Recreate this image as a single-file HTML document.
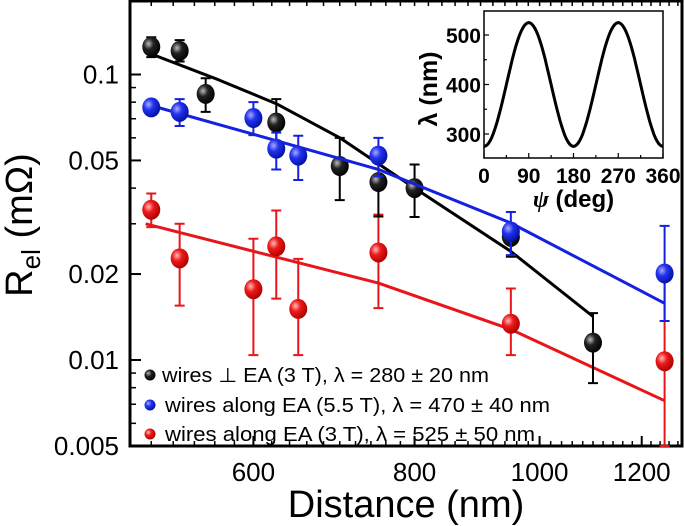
<!DOCTYPE html>
<html><head><meta charset="utf-8"><style>
body{margin:0;background:#fff}
svg{display:block;font-family:"Liberation Sans",sans-serif}
</style></head><body>
<svg id="c" width="685" height="526" viewBox="0 0 685 526">
<defs>
<radialGradient id="gk" cx="0.35" cy="0.35" r="0.7"><stop offset="0" stop-color="#bbb"/><stop offset="0.4" stop-color="#222"/><stop offset="1" stop-color="#000"/></radialGradient>
<radialGradient id="gb" cx="0.35" cy="0.35" r="0.7"><stop offset="0" stop-color="#aaf"/><stop offset="0.4" stop-color="#2233ee"/><stop offset="1" stop-color="#0010a0"/></radialGradient>
<radialGradient id="gr" cx="0.35" cy="0.35" r="0.7"><stop offset="0" stop-color="#fbb"/><stop offset="0.4" stop-color="#ee1a1a"/><stop offset="1" stop-color="#a00"/></radialGradient>
</defs>
<g id="plot"></g>
</svg>
<script>
const blackD=[500,526,551,625,700,750,800,950,1100];
const blackV=[0.125,0.121,0.0855,0.0679,0.0478,0.042,0.040,0.027,0.0115];
const blackLo=[0.115,0.111,0.074,0.0566,0.0363,0.0318,0.0317,0.0230,0.0083];
const blackHi=[0.135,0.132,0.097,0.082,0.060,0.050,0.0484,0.0282,0.0146];
const blueD=[500,526,600,625,650,750,950,1250];
const blueV=[0.0767,0.074,0.0704,0.055,0.052,0.052,0.0282,0.0201];
const blueLo=[0.074,0.066,0.0613,0.0465,0.0427,0.044,0.0233,0.0137];
const blueHi=[0.080,0.082,0.080,0.0626,0.061,0.060,0.033,0.0295];
const redD=[500,526,600,625,650,750,950,1250];
const redV=[0.0336,0.0227,0.0177,0.025,0.0151,0.0238,0.0134,0.0099];
const redLo=[0.0292,0.0155,0.0104,0.0164,0.0104,0.0152,0.0104,0.005];
const redHi=[0.0383,0.030,0.0266,0.0334,0.0226,0.0323,0.0178,0.0195];
const blackFitD=[500,560,625,700,800,950,1100];
const blackFitV=[0.118,0.097,0.0790,0.060,0.040,0.024,0.0142];
const blueFitD=[495,750,950,1250];
const blueFitV=[0.0788,0.0465,0.0302,0.0158];
const redFitD=[495,750,950,1250];
const redFitV=[0.030,0.0186,0.0128,0.0072];
const xTicks=[600,800,1000,1200];
const yTicks=[0.1,0.05,0.02,0.01,0.005];
const yTickLabels=["0.1","0.05","0.02","0.01","0.005"];
const insetXTicks=[0,90,180,270,360];
const insetYTicks=[300,400,500];
const legendLabels=["wires \u22A5 EA (3 T), \u03BB = 280 \u00B1 20 nm","wires along EA (5.5 T), \u03BB = 470 \u00B1 40 nm","wires along EA (3 T), \u03BB = 525 \u00B1 50 nm"];

const NS="http://www.w3.org/2000/svg";
const g=document.getElementById('plot');
function el(t,a,p){const e=document.createElementNS(NS,t);for(const k in a)e.setAttribute(k,a[k]);(p||g).appendChild(e);return e;}
const X=d=>253.4+1290*Math.log10(d/600);
const Y=v=>74.5-285.5*Math.log10(v/0.1);
const L=130,R=682,T=1,B=446;

for(let d=460;d<=1280;d+=20){const x=X(d);if(x<L+2||x>R-2)continue;
 let t=el('line',{x1:x,x2:x,y1:B,y2:B-5,stroke:'#000','stroke-width':1.5});
 
 let t2=el('line',{x1:x,x2:x,y1:T,y2:T+5,stroke:'#000','stroke-width':1.5});
 }
[0.006,0.007,0.008,0.009,0.02,0.03,0.04,0.06,0.07,0.08,0.09].forEach(v=>{const y=Y(v);
 let t=el('line',{x1:L,x2:L+6,y1:y,y2:y,stroke:'#000','stroke-width':1.5});
 });
xTicks.forEach(d=>{const x=X(d);
 let t=el('line',{x1:x,x2:x,y1:B,y2:B-10,stroke:'#000','stroke-width':2});
 
 let tx=el('text',{x:x,y:481,'font-size':26,'text-anchor':'middle'});tx.textContent=d;
 });
yTicks.forEach((v,i)=>{const y=Y(v);
 let t=el('line',{x1:L,x2:L+11,y1:y,y2:y,stroke:'#000','stroke-width':2});
 
 let tx=el('text',{x:119,y:y+9,'font-size':26,'text-anchor':'end'});tx.textContent=yTickLabels[i];
 });
let fr=el('rect',{x:L,y:T,width:R-L,height:B-T,fill:'none',stroke:'#000','stroke-width':3});


function series(D,V,Lo,Hi,FD,FV,col,grad,name){
 const pts=FD.map((d,i)=>X(d).toFixed(1)+','+Y(FV[i]).toFixed(1)).join(' ');
 let pl=el('polyline',{points:pts,fill:'none',stroke:col,'stroke-width':3,'stroke-linejoin':'round'});
 
 D.forEach((d,i)=>{const x=X(d),y1=Y(Lo[i]),y2=Y(Hi[i]);
  let e=el('path',{d:`M${x},${y1}V${y2}M${x-5},${y1}H${x+5}M${x-5},${y2}H${x+5}`,stroke:col,'stroke-width':2,fill:'none'});
  });
 D.forEach((d,i)=>{let c=el('ellipse',{cx:X(d),cy:Y(V[i]),rx:9,ry:10,fill:`url(#${grad})`});
  });
}
series(redD,redV,redLo,redHi,redFitD,redFitV,'#e8161b','gr','red-series');
series(blackD,blackV,blackLo,blackHi,blackFitD,blackFitV,'#000','gk','black-series');
series(blueD,blueV,blueLo,blueHi,blueFitD,blueFitV,'#1422e0','gb','blue-series');

const lg=['gk','gb','gr'],ly=[375,405,434],lw=[327,385,370];
legendLabels.forEach((s,i)=>{
 let m=el('circle',{cx:150,cy:ly[i],r:5.5,fill:`url(#${lg[i]})`});
 
 let t=el('text',{x:i==0?162:165,y:ly[i]+7,'font-size':20,textLength:lw[i],lengthAdjust:'spacingAndGlyphs'});t.textContent=s;
 });

let xt=el('text',{x:406,y:517,'font-size':38,'text-anchor':'middle'});xt.textContent='Distance (nm)';

let yt=el('text',{transform:'translate(32,225) rotate(-90)','font-size':38,'text-anchor':'middle'});
yt.innerHTML='R<tspan font-size="26" dy="8">el</tspan><tspan dy="-8"> (m\u03A9)</tspan>';


const iL=484,iR=663,iT=11,iB=158;
const IX=p=>iL+(iR-iL)*p/360, IY=l=>35+(500-l)*0.495;
const ig=el('g',{});
let ifr=el('rect',{x:iL,y:iT,width:iR-iL,height:iB-iT,fill:'#fff',stroke:'#000','stroke-width':1.5},ig);

[0,45,90,135,180,225,270,315,360].forEach(p=>{let t=el('line',{x1:IX(p),x2:IX(p),y1:iB,y2:iB-(p%90?3:5),stroke:'#000','stroke-width':1.2},ig);
 });
insetXTicks.forEach(p=>{let t=el('text',{x:IX(p),y:183,'font-size':21,'font-weight':'bold','text-anchor':'middle'},ig);t.textContent=p;
 });
[300,350,400,450,500].forEach(l=>{let t=el('line',{x1:iL,x2:iL+(l%100?3:5),y1:IY(l),y2:IY(l),stroke:'#000','stroke-width':1.2},ig);
 });
insetYTicks.forEach(l=>{let t=el('text',{x:481,y:IY(l)+8,'font-size':21,'font-weight':'bold','text-anchor':'end'},ig);t.textContent=l;
 });
let ip=[];for(let p=0;p<=360;p+=3)ip.push(IX(p).toFixed(1)+','+IY(400-125*Math.cos(2*p*Math.PI/180)).toFixed(1));
let ic=el('polyline',{points:ip.join(' '),fill:'none',stroke:'#000','stroke-width':3},ig);

let ixt=el('text',{x:IX(180),y:207,'font-size':24,'font-weight':'bold','text-anchor':'middle'},ig);
ixt.innerHTML='<tspan font-style="italic" font-family="Liberation Serif">\u03C8</tspan> (deg)';

let iyt=el('text',{transform:'translate(437,89) rotate(-90)','font-size':25,'font-weight':'bold','text-anchor':'middle'},ig);
iyt.textContent='\u03BB (nm)';

</script>
</body></html>
